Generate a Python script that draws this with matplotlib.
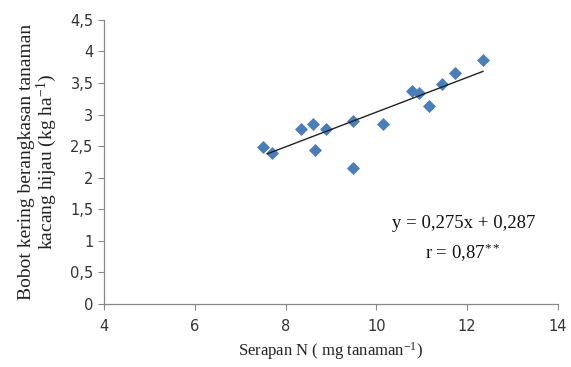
import matplotlib
matplotlib.use("Agg")
import matplotlib.pyplot as plt
import numpy as np

plt.rcParams["mathtext.fontset"] = "custom"
plt.rcParams["mathtext.rm"] = "Liberation Serif"
plt.rcParams["mathtext.it"] = "Liberation Serif:italic"
plt.rcParams["mathtext.bf"] = "Liberation Serif:bold"

serapan_n = [7.50, 7.71, 8.34, 8.61, 8.65, 8.89, 9.49, 9.49, 10.14, 10.79, 10.95, 11.16, 11.44, 11.73, 12.35]
bobot = [2.48, 2.39, 2.77, 2.85, 2.44, 2.77, 2.89, 2.15, 2.85, 3.38, 3.34, 3.14, 3.48, 3.66, 3.86]
slope, intercept = 0.275, 0.287
trend_x = [7.6, 12.35]
xticks = [4, 6, 8, 10, 12, 14]
yticks = [0, 0.5, 1, 1.5, 2, 2.5, 3, 3.5, 4, 4.5]
ytick_labels = ["0", "0,5", "1", "1,5", "2", "2,5", "3", "3,5", "4", "4,5"]

fig = plt.figure(figsize=(5.71, 3.67), dpi=100)
ax = fig.add_axes([0.182, 0.172, 0.795, 0.774])

ax.scatter(serapan_n, bobot, marker="D", s=44, color="#4a7ebb", zorder=3, linewidths=0)
tx = np.array(trend_x)
ax.plot(tx, slope * tx + intercept, color="#222222", lw=1.0, zorder=4)

ax.set_xlim(4, 14)
ax.set_ylim(0, 4.5)
ax.set_xticks(xticks)
ax.set_yticks(yticks)
ax.set_yticklabels(ytick_labels)
for s in ["top", "right"]:
    ax.spines[s].set_visible(False)
for s in ["left", "bottom"]:
    ax.spines[s].set_color("#888888")
    ax.spines[s].set_linewidth(0.9)
ax.tick_params(axis="both", colors="#888888", labelcolor="#333333", labelsize=10.5, length=4, width=0.8)
ax.tick_params(axis="x", pad=7)

ax.set_xlabel("Serapan N ( mg tanaman$^{\\mathregular{-1}}$)", family="Liberation Serif", fontsize=12, color="#222222", labelpad=4)
ax.set_ylabel("Bobot kering berangkasan tanaman\nkacang hijau (kg ha$^{\\mathregular{-1}}$)", family="Liberation Serif", fontsize=14, color="#222222", labelpad=8, linespacing=1.0)

ax.text(11.93, 1.28, "y = 0,275x + 0,287", family="Liberation Serif", fontsize=13.5, ha="center", va="center", color="#111111")
ax.text(11.9, 0.81, "r = 0,87$^{\\mathregular{**}}$", family="Liberation Serif", fontsize=13.5, ha="center", va="center", color="#111111")

fig.savefig("out.png", dpi=100)
